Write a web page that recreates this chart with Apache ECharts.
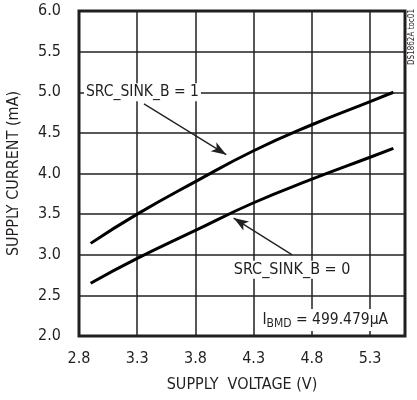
<!DOCTYPE html>
<html><head><meta charset="utf-8">
<script src="https://cdn.jsdelivr.net/npm/echarts@6/dist/echarts.min.js"></script>
<style>html,body{margin:0;padding:0;background:#fff}#c{width:417px;height:400px}</style>
</head><body><div id="c"></div>
<script>
// ---- data ----
const voltage = [2.9, 3.3, 3.8, 4.3, 4.8, 5.3, 5.5];
const currentB1 = [3.14, 3.50, 3.90, 4.28, 4.60, 4.885, 5.0];   // SRC_SINK_B = 1
const currentB0 = [2.65, 2.955, 3.30, 3.64, 3.93, 4.20, 4.31];  // SRC_SINK_B = 0
const xTickLabels = ['2.8', '3.3', '3.8', '4.3', '4.8', '5.3'];
const yTickLabels = ['2.0', '2.5', '3.0', '3.5', '4.0', '4.5', '5.0', '5.5', '6.0'];
const labelB1 = 'SRC_SINK_B = 1';
const labelB0 = 'SRC_SINK_B = 0';
const labelB1Pos = [3.345, 5.0];
const labelB0Pos = [4.63, 2.814];
const ibmdPos = [4.915, 2.197];
const arrowB1 = [[3.358, 4.857], [4.065, 4.232]];
const arrowB0 = [[4.631, 2.999], [4.128, 3.451]];

const FONT = "'Liberation Sans Narrow', 'DejaVu Sans Condensed', 'Liberation Sans', sans-serif";
const INK = '#231f20';

const chart = echarts.init(document.getElementById('c'), null, {renderer: 'canvas'});
const pairs = (xs, ys) => xs.map((x, i) => [x, ys[i]]);
const fmt1 = v => (Math.round(v * 10) / 10).toFixed(1);

chart.setOption({
  animation: false,
  backgroundColor: '#fff',
  textStyle: {fontFamily: FONT},
  grid: {left: 79, right: 12, top: 11, bottom: 64, containLabel: false, outerBoundsMode: 'none',
    show: true, borderColor: INK, borderWidth: 3, backgroundColor: 'transparent'},
  xAxis: {
    type: 'value', min: 2.8, max: 5.6, interval: 0.5,
    name: 'SUPPLY  VOLTAGE (V)', nameLocation: 'middle', nameGap: 41,
    nameTextStyle: {fontFamily: FONT, fontSize: 16, color: INK},
    axisLine: {show: false}, axisTick: {show: false},
    axisLabel: {fontFamily: FONT, fontSize: 16, color: INK, margin: 15, showMaxLabel: false,
      formatter: v => { const s = fmt1(v); return xTickLabels.includes(s) ? s : ''; }},
    splitLine: {show: true, lineStyle: {color: INK, width: 1.5}}
  },
  yAxis: {
    type: 'value', min: 2, max: 6, interval: 0.5,
    name: 'SUPPLY CURRENT (mA)', nameLocation: 'middle', nameGap: 57,
    nameTextStyle: {fontFamily: FONT, fontSize: 16, color: INK},
    axisLine: {show: false}, axisTick: {show: false},
    axisLabel: {fontFamily: FONT, fontSize: 16, color: INK, margin: 18,
      formatter: v => { const s = fmt1(v); return yTickLabels.includes(s) ? s : ''; }},
    splitLine: {show: true, lineStyle: {color: INK, width: 1.5}}
  },
  graphic: [{
    type: 'text', x: 412, y: 37, rotation: Math.PI / 2,
    style: {text: 'DS1862A toc01', fontFamily: FONT, fontSize: 8, fill: INK, align: 'center', verticalAlign: 'middle'}
  }],
  series: [
    {
      name: labelB1, type: 'line', data: pairs(voltage, currentB1), smooth: 0.5,
      showSymbol: false, lineStyle: {color: '#000', width: 3}, z: 3,
      markLine: {
        silent: true, symbol: ['none', 'arrow'], symbolSize: [8, 15],
        lineStyle: {color: INK, width: 1.3, type: 'solid'}, label: {show: false},
        data: [[{coord: arrowB1[0]}, {coord: arrowB1[1]}]]
      },
      markPoint: {
        silent: true, symbol: 'circle', symbolSize: 1, itemStyle: {color: 'rgba(0,0,0,0)'},
        label: {show: true, position: 'inside', fontFamily: FONT, fontSize: 15.5, color: INK, backgroundColor: '#fff', padding: [1, 2, 1, 2]},
        data: [{coord: labelB1Pos, label: {formatter: labelB1}}]
      }
    },
    {
      name: labelB0, type: 'line', data: pairs(voltage, currentB0), smooth: 0.5,
      showSymbol: false, lineStyle: {color: '#000', width: 3}, z: 3,
      markLine: {
        silent: true, symbol: ['none', 'arrow'], symbolSize: [8, 15],
        lineStyle: {color: INK, width: 1.3, type: 'solid'}, label: {show: false},
        data: [[{coord: arrowB0[0]}, {coord: arrowB0[1]}]]
      },
      markPoint: {
        silent: true, symbol: 'circle', symbolSize: 1, itemStyle: {color: 'rgba(0,0,0,0)'},
        label: {show: true, position: 'inside', fontFamily: FONT, fontSize: 16, color: INK, backgroundColor: '#fff', padding: [1, 2, 1, 2]},
        data: [
          {coord: labelB0Pos, label: {formatter: labelB0}},
          {coord: ibmdPos, label: {
            formatter: '{a|I}{b|BMD}{a| = 499.479μA}',
            rich: {
              a: {fontFamily: FONT, fontSize: 15.5, color: INK, lineHeight: 20, verticalAlign: 'middle'},
              b: {fontFamily: FONT, fontSize: 12, color: INK, lineHeight: 9, verticalAlign: 'bottom'}
            }
          }}
        ]
      }
    }
  ]
});
</script>
</body></html>
